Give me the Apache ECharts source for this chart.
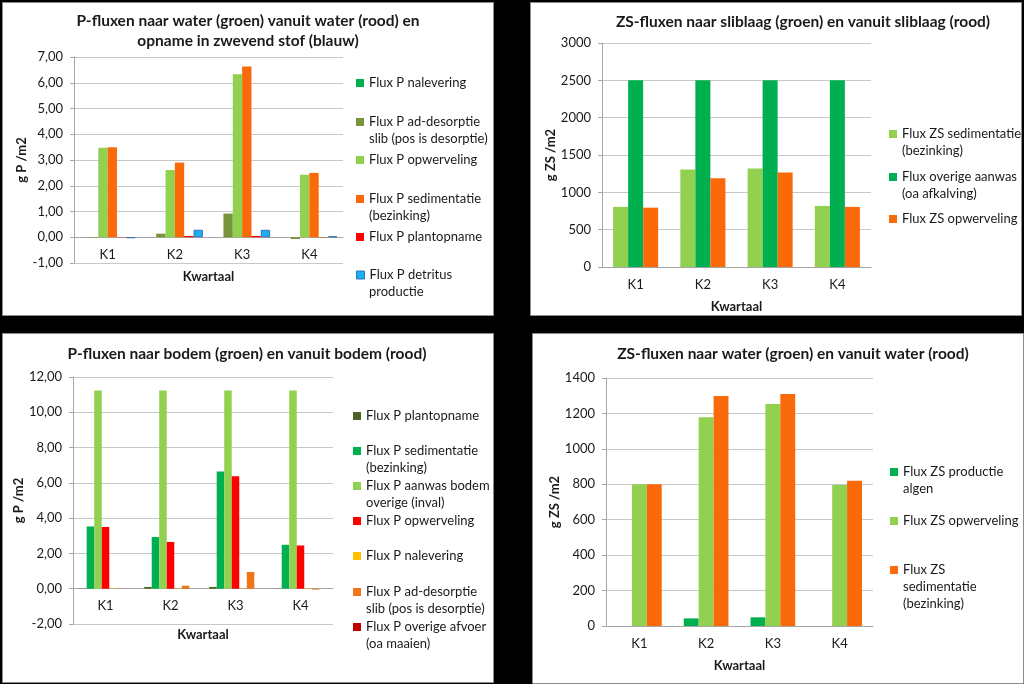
<!DOCTYPE html>
<html><head><meta charset="utf-8">
<script src="https://cdn.jsdelivr.net/npm/echarts@6/dist/echarts.min.js"></script>
<style>html,body{margin:0;padding:0;background:#000}#c{width:1024px;height:684px}</style>
</head><body><div id="c"></div><script>
const categories = ['K1', 'K2', 'K3', 'K4'];
const xAxisName = 'Kwartaal';

// Panel 1: P-fluxen naar water
const p1Title = 'P-fluxen naar water (groen) vanuit water (rood) en\nopname in zwevend stof (blauw)';
const p1YName = 'g P /m2';
const p1Names = ['Flux P nalevering', 'Flux P ad-desorptie\nslib (pos is desorptie)', 'Flux P opwerveling', 'Flux P sedimentatie\n(bezinking)', 'Flux P plantopname', 'Flux P detritus\nproductie'];
const p1Nalevering = [0, 0, 0, 0];
const p1AdDesorptie = [-0.02, 0.14, 0.92, -0.07];
const p1Opwerveling = [3.48, 2.61, 6.33, 2.43];
const p1Sedimentatie = [3.5, 2.9, 6.63, 2.5];
const p1Plantopname = [0.01, 0.05, 0.05, 0.01];
const p1Detritus = [-0.03, 0.29, 0.29, 0.04];

// Panel 2: ZS-fluxen naar sliblaag
const p2Title = 'ZS-fluxen naar sliblaag (groen) en vanuit sliblaag (rood)';
const p2YName = 'g ZS /m2';
const p2Names = ['Flux ZS sedimentatie\n(bezinking)', 'Flux overige aanwas\n(oa afkalving)', 'Flux ZS opwerveling'];
const p2Sedimentatie = [805, 1305, 1320, 818];
const p2OverigeAanwas = [2500, 2500, 2500, 2500];
const p2Opwerveling = [795, 1188, 1265, 805];

// Panel 3: P-fluxen naar bodem
const p3Title = 'P-fluxen naar bodem (groen) en vanuit bodem (rood)';
const p3YName = 'g P /m2';
const p3Names = ['Flux P plantopname', 'Flux P sedimentatie\n(bezinking)', 'Flux P aanwas bodem\noverige (inval)', 'Flux P opwerveling', 'Flux P nalevering', 'Flux P ad-desorptie\nslib (pos is desorptie)', 'Flux P overige afvoer\n(oa maaien)'];
const p3Plantopname = [0.01, 0.1, 0.1, 0.01];
const p3Sedimentatie = [3.53, 2.93, 6.65, 2.49];
const p3AanwasOverige = [11.24, 11.24, 11.24, 11.24];
const p3Opwerveling = [3.5, 2.65, 6.37, 2.45];
const p3Nalevering = [0.02, 0.02, 0.02, 0.02];
const p3AdDesorptie = [0.02, 0.17, 0.95, -0.05];
const p3OverigeAfvoer = [0, 0, 0, 0];

// Panel 4: ZS-fluxen naar water
const p4Title = 'ZS-fluxen naar water (groen) en vanuit water (rood)';
const p4YName = 'g ZS /m2';
const p4Names = ['Flux ZS productie\nalgen', 'Flux ZS opwerveling', 'Flux ZS\nsedimentatie\n(bezinking)'];
const p4ProductieAlgen = [0, 43, 49, 0];
const p4Opwerveling = [800, 1178, 1253, 796];
const p4Sedimentatie = [800, 1299, 1310, 820];

const FONT = 'Lato, "Open Sans", sans-serif';
const TXT = '#1a1a1a';
const GREEN = '#00B050', LGREEN = '#92D050', OLIVE = '#77933C', DOLIVE = '#4F6228';
const ORANGE = '#FA6A0A', RED = '#FF0000', DRED = '#C00000', YELLOW = '#FFC000', BLUE = '#1CB0F0', ORANGE2 = '#EE7518';

const panels = [
  {rect: [2, 2, 491, 313], title: p1Title, tx: 248, ty: 11,
   grid: {left: 74, top: 57, width: 269, height: 206}, y: {min: -1, max: 7, interval: 1, dec: true}, yName: p1YName, yGap: 45, xGap: 33,
   gap: '16.7%', names: p1Names, data: [p1Nalevering, p1AdDesorptie, p1Opwerveling, p1Sedimentatie, p1Plantopname, p1Detritus],
   colors: [GREEN, OLIVE, LGREEN, ORANGE, RED, BLUE], legX: 356, legY: [83, 122, 160, 199, 237, 275]},
  {rect: [530, 2, 491, 313], title: p2Title, tx: 803, ty: 12,
   grid: {left: 602, top: 43, width: 269, height: 224}, y: {min: 0, max: 3000, interval: 500, dec: false}, yName: p2YName, yGap: 44, xGap: 33,
   gap: '33%', names: p2Names, data: [p2Sedimentatie, p2OverigeAanwas, p2Opwerveling],
   colors: [LGREEN, GREEN, ORANGE], legX: 889, legY: [134, 177, 219]},
  {rect: [2, 333, 491, 349], title: p3Title, tx: 247, ty: 344,
   grid: {left: 73, top: 377, width: 260, height: 247}, y: {min: -2, max: 12, interval: 2, dec: true}, yName: p3YName, yGap: 46, xGap: 40,
   gap: '19%', names: p3Names, data: [p3Plantopname, p3Sedimentatie, p3AanwasOverige, p3Opwerveling, p3Nalevering, p3AdDesorptie, p3OverigeAfvoer],
   colors: [DOLIVE, GREEN, LGREEN, RED, YELLOW, ORANGE2, DRED], legX: 353, legY: [416, 451, 486, 521, 556, 592, 627]},
  {rect: [532, 333, 491, 350], title: p4Title, tx: 793, ty: 344,
   grid: {left: 606, top: 378, width: 267, height: 248}, y: {min: 0, max: 1400, interval: 200, dec: false}, yName: p4YName, yGap: 45, xGap: 33,
   gap: '33%', names: p4Names, data: [p4ProductieAlgen, p4Opwerveling, p4Sedimentatie],
   colors: [GREEN, LGREEN, ORANGE], legX: 890, legY: [472, 521, 570]}
];

const option = {backgroundColor: '#000', animation: false, title: [], grid: [], xAxis: [], yAxis: [], series: [], legend: [], graphic: []};

panels.forEach((p, i) => {
  option.graphic.push({type: 'rect', z: -10, shape: {x: p.rect[0] + 0.5, y: p.rect[1] + 0.5, width: p.rect[2], height: p.rect[3]},
    style: {fill: '#fff', stroke: '#8c8c8c', lineWidth: 1}});
  option.title.push({text: p.title, left: p.tx, top: p.ty, textAlign: 'center', padding: 0,
    textStyle: {fontFamily: FONT, fontSize: 15.5, fontWeight: 'bold', color: TXT, lineHeight: 20}});
  option.grid.push(Object.assign({containLabel: false}, p.grid));
  // x axis sits on the zero line of the value axis
  const zeroOffset = -p.grid.height * (0 - p.y.min) / (p.y.max - p.y.min);
  option.xAxis.push({type: 'category', gridIndex: i, data: categories, name: xAxisName, nameLocation: 'middle', nameGap: p.xGap,
    offset: zeroOffset,
    nameTextStyle: {fontFamily: FONT, fontSize: 13, fontWeight: 'bold', color: TXT},
    axisLine: {show: true, onZero: false, lineStyle: {color: '#A6A6A6'}}, axisTick: {show: false},
    axisLabel: {fontFamily: FONT, fontSize: 13, color: TXT, margin: 11}});
  option.yAxis.push({type: 'value', gridIndex: i, min: p.y.min, max: p.y.max, interval: p.y.interval,
    name: p.yName, nameLocation: 'middle', nameGap: p.yGap,
    nameTextStyle: {fontFamily: FONT, fontSize: 13, fontWeight: 'bold', color: TXT},
    axisLine: {show: true, lineStyle: {color: '#A6A6A6'}}, axisTick: {show: true, length: 4, lineStyle: {color: '#A6A6A6'}},
    splitLine: {show: true, lineStyle: {color: '#C8C8C8'}},
    axisLabel: {fontFamily: FONT, fontSize: 13, color: TXT, margin: 11,
      formatter: v => p.y.dec ? v.toFixed(2).replace('.', ',') : String(v)}});
  p.names.forEach((name, k) => {
    const isBlue = p.colors[k] === BLUE;
    const itemStyle = isBlue ? {color: BLUE, borderColor: '#2E75B6', borderWidth: 1} : {color: p.colors[k]};
    option.series.push({type: 'bar', name: name, xAxisIndex: i, yAxisIndex: i, data: p.data[k],
      barGap: '0%', barCategoryGap: p.gap, itemStyle: itemStyle});
    const lines = name.split('\n');
    option.legend.push({left: p.legX, top: p.legY[k] - 8.5, padding: 0, orient: 'vertical', itemWidth: 8, itemHeight: 8,
      icon: 'rect', selectedMode: false, itemGap: 0,
      data: [{name: name, itemStyle: itemStyle}],
      formatter: n => n.split('\n')[0],
      textStyle: {fontFamily: FONT, fontSize: 13, color: TXT, lineHeight: 17}});
    lines.slice(1).forEach((ln, j) => {
      option.graphic.push({type: 'text', x: p.legX + 13, y: p.legY[k] + 17 * (j + 1),
        style: {text: ln, font: '13px ' + FONT, fill: TXT, textAlign: 'left', textVerticalAlign: 'middle', verticalAlign: 'middle'}});
    });
  });
});

const chart = echarts.init(document.getElementById('c'), null, {renderer: 'canvas'});
chart.setOption(option);
</script></body></html>
